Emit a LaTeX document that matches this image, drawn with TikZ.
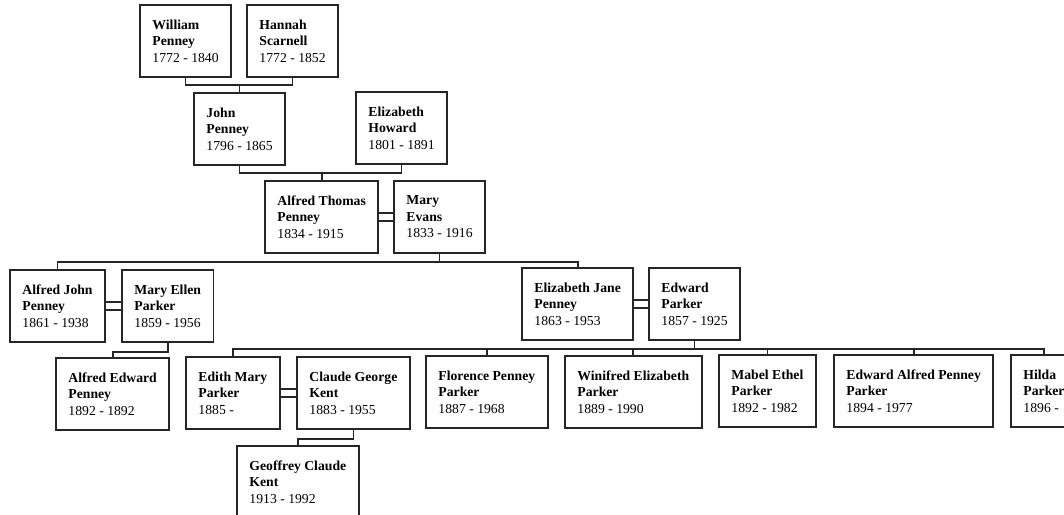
\documentclass[tikz,border=0pt]{standalone}
\usepackage{fontspec}
\setmainfont{Liberation Serif}
\tikzset{
    person/.style={draw=black!85, line width=1.9pt, anchor=north west, align=left,
        inner xsep=12.5pt, inner ysep=4pt, minimum height=72pt,
        font=\fontsize{13.7}{16.5}\selectfont},
    link/.style={draw=black!85, line width=1.7pt},
    wed/.style={draw=black!85, line width=1.7pt, double, double distance=6pt}
}
\begin{document}
\begin{tikzpicture}[x=1pt, y=-1pt]
            \clip (0,0) rectangle (1064,514);
            \fill[white] (0,0) rectangle (1064,514);
            % generation 1
            \node [person] (william) at (139,4) {\textbf{William}\\\textbf{Penney}\\1772 - 1840};
            \node [person] (hannah) at (246,4) {\textbf{Hannah}\\\textbf{Scarnell}\\1772 - 1852};
            % generation 2
            \node [person] (john) at (193,92) {\textbf{John}\\\textbf{Penney}\\1796 - 1865};
            \node [person] (elizhoward) at (355,91) {\textbf{Elizabeth}\\\textbf{Howard}\\1801 - 1891};
            % generation 3
            \node [person] (alfredthomas) at (264,180) {\textbf{Alfred Thomas}\\\textbf{Penney}\\1834 - 1915};
            \node [person] (maryevans) at (393,180) {\textbf{Mary}\\\textbf{Evans}\\1833 - 1916};
            % generation 4
            \node [person] (alfredjohn) at (9,269) {\textbf{Alfred John}\\\textbf{Penney}\\1861 - 1938};
            \node [person] (maryellen) at (121,269) {\textbf{Mary Ellen}\\\textbf{Parker}\\1859 - 1956};
            \node [person] (elizjane) at (521,267) {\textbf{Elizabeth Jane}\\\textbf{Penney}\\1863 - 1953};
            \node [person] (edward) at (648,267) {\textbf{Edward}\\\textbf{Parker}\\1857 - 1925};
            % generation 5
            \node [person] (alfrededward) at (55,357) {\textbf{Alfred Edward}\\\textbf{Penney}\\1892 - 1892};
            \node [person] (edith) at (185,356) {\textbf{Edith Mary}\\\textbf{Parker}\\1885 -};
            \node [person] (claude) at (296,356) {\textbf{Claude George}\\\textbf{Kent}\\1883 - 1955};
            \node [person] (florence) at (425,355) {\textbf{Florence Penney}\\\textbf{Parker}\\1887 - 1968};
            \node [person] (winifred) at (564,355) {\textbf{Winifred Elizabeth}\\\textbf{Parker}\\1889 - 1990};
            \node [person] (mabel) at (718,354) {\textbf{Mabel Ethel}\\\textbf{Parker}\\1892 - 1982};
            \node [person] (edwardalfred) at (833,354) {\textbf{Edward Alfred Penney}\\\textbf{Parker}\\1894 - 1977};
            \node [person] (hilda) at (1010,354) {\textbf{Hilda}\\\textbf{Parker}\\1896 -};
            % generation 6
            \node [person] (geoffrey) at (236,445) {\textbf{Geoffrey Claude}\\\textbf{Kent}\\1913 - 1992};
            % marriages
            \draw [wed] (alfredthomas.east) -- (maryevans.west);
            \draw [wed] (alfredjohn.east) -- (maryellen.west);
            \draw [wed] (elizjane.east) -- (edward.west);
            \draw [wed] (edith.east) -- (claude.west);
            % descent
            \draw [link] (william.south) -- ++(0,7) coordinate (wh) -| (hannah.south);
            \draw [link] (john.north) -- (john.north |- wh);
            \draw [link] (john.south) -- ++(0,7) coordinate (je) -| (elizhoward.south);
            \draw [link] (alfredthomas.north) -- (alfredthomas.north |- je);
            \draw [link] (maryevans.south) -- ++(0,8) coordinate (am);
            \draw [link] (alfredjohn.north) |- (am) -| (elizjane.north);
            \draw [link] (maryellen.south) -- ++(0,9) -| (alfrededward.north);
            \draw [link] (edward.south) -- ++(0,8) coordinate (ee);
            \draw [link] (edith.north) |- (ee) -| (hilda.north);
            \foreach \kid in {florence,winifred,mabel,edwardalfred}
                \draw [link] (\kid.north) -- (\kid.north |- ee);
            \draw [link] (claude.south) -- ++(0,9) -| (geoffrey.north);
\end{tikzpicture}
\end{document}
